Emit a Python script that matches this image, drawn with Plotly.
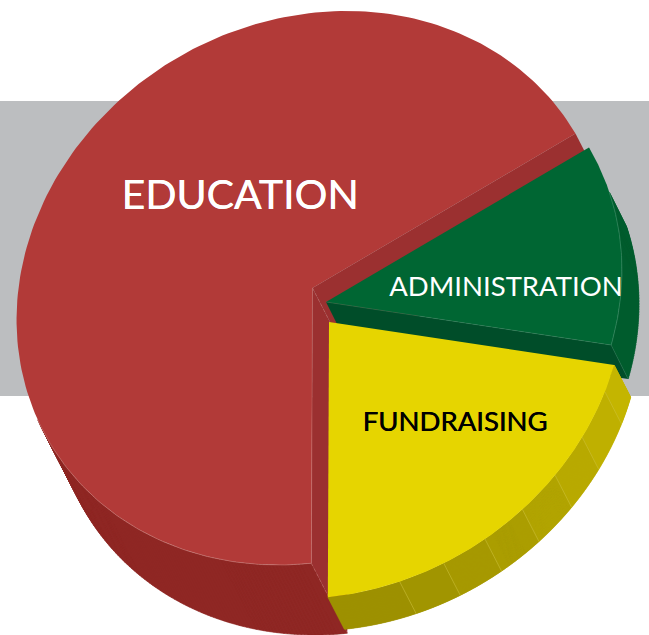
import numpy as np
import plotly.graph_objects as go

categories = ["ADMINISTRATION", "FUNDRAISING", "EDUCATION"]
shares = [11.9, 20.75, 67.35]

# Drawing style of the tilted, exploded pie (pixels of the 649x635 canvas)
W, H = 649, 635
AXIS_A, AXIS_B, TILT = 305.0, 267.0, np.radians(30)
apexes = {"ADMINISTRATION": (326, 302), "FUNDRAISING": (329, 322), "EDUCATION": (312.5, 288)}
depths = {"ADMINISTRATION": (17, 34), "FUNDRAISING": (16.5, 32), "EDUCATION": (36, 70)}
top_colors = {"ADMINISTRATION": "#006633", "FUNDRAISING": "#e6d500", "EDUCATION": "#b23a38"}
side_colors = {"ADMINISTRATION": "#005c2e", "FUNDRAISING": "#a89b00", "EDUCATION": "#8f2724"}
face_colors = {"ADMINISTRATION": "#004d29", "FUNDRAISING": "#c2b200", "EDUCATION": "#9b3030"}
label_pos = {"ADMINISTRATION": (506, 289), "FUNDRAISING": (455, 424), "EDUCATION": (240, 199)}
label_size = {"ADMINISTRATION": 27.5, "FUNDRAISING": 27.5, "EDUCATION": 41}
label_color = {"ADMINISTRATION": "white", "FUNDRAISING": "black", "EDUCATION": "white"}
label_shadow = {"ADMINISTRATION": "none", "FUNDRAISING": "0.5px 0 0 black", "EDUCATION": "0.4px 0 0 white"}
edu_side_end, admin_side_start = -185, -10
fund_bands = [-48, -58, -67, -76, -85, -94, -103]
fund_band_colors = ["#c4b500", "#bfb000", "#b8aa00", "#b2a400", "#ab9e00", "#a69900", "#a19500", "#9d9100"]

start = 0.5
sweeps = np.array(shares, dtype=float) / sum(shares) * 360


def rim(t_deg, apex):
    t = np.radians(np.asarray(t_deg, dtype=float))
    u, v = AXIS_A * np.cos(t), AXIS_B * np.sin(t)
    return (apex[0] + u * np.cos(TILT) - v * np.sin(TILT),
            apex[1] - (u * np.sin(TILT) + v * np.cos(TILT)))


def poly(xs, ys, color, line=0.8):
    return go.Scatter(x=list(xs), y=list(ys), mode="lines", fill="toself", fillcolor=color,
                      line=dict(color=color, width=line), hoverinfo="skip", showlegend=False)


def edge(xs, ys, color, width=0.6, dash=None):
    return go.Scatter(x=list(xs), y=list(ys), mode="lines", hoverinfo="skip", showlegend=False,
                      line=dict(color=color, width=width, dash=dash))


def side_quads(t0, t1, apex, d, color):
    ts = np.linspace(t0, t1, 100)
    rx, ry = rim(ts, apex)
    xs, ys = [], []
    for i in range(len(ts) - 1):
        xs += [rx[i], rx[i + 1], rx[i + 1] + d[0], rx[i] + d[0], rx[i], None]
        ys += [ry[i], ry[i + 1], ry[i + 1] + d[1], ry[i] + d[1], ry[i], None]
    return poly(xs, ys, color, line=0.6)


def wedge(t0, t1, apex, color):
    rx, ry = rim(np.linspace(t0, t1, 200), apex)
    return poly([apex[0], *rx, apex[0]], [apex[1], *ry, apex[1]], color, line=0)


def face(t, apex, d, color):
    x, y = rim(t, apex)
    x, y = float(x), float(y)
    return poly([apex[0], x, x + d[0], apex[0] + d[0], apex[0]],
                [apex[1], y, y + d[1], apex[1] + d[1], apex[1]], color, line=0)


limits = {}
t = start
for name, sw in zip(categories, sweeps):
    limits[name] = (t, t - sw)
    t -= sw

fig = go.Figure()

# Education
n = "EDUCATION"
a, d = apexes[n], depths[n]
t0, t1 = limits[n]
fig.add_trace(side_quads(t0, edu_side_end, a, d, side_colors[n]))
fig.add_trace(face(t1, a, d, face_colors[n]))
fig.add_trace(face(t0, a, d, face_colors[n]))
fig.add_trace(wedge(t0, t1, a, top_colors[n]))
rx, ry = rim(np.linspace(t0, edu_side_end, 80), a)
fig.add_trace(edge(rx, ry, "#cf8a86", 0.5))
sx, sy = float(rx[0]), float(ry[0])
fig.add_trace(edge([sx, a[0]], [sy, a[1]], "#c4706c", 0.5))
fig.add_trace(edge([sx, sx + d[0] / 2], [sy, sy + d[1] / 2], "#c4706c", 0.5, "dot"))
fig.add_trace(edge([a[0], a[0] + d[0] / 2.3], [a[1], a[1] + d[1] / 2.3], "#c4706c", 0.5, "dot"))

# Administration
n = "ADMINISTRATION"
a, d = apexes[n], depths[n]
t0, t1 = limits[n]
fig.add_trace(side_quads(admin_side_start, t1, a, d, side_colors[n]))
fig.add_trace(face(t1, a, d, face_colors[n]))
fig.add_trace(wedge(t0, t1, a, top_colors[n]))
rx, ry = rim(np.linspace(admin_side_start, t1, 60), a)
fig.add_trace(edge(rx, ry, "#4f9a76", 0.5))
fig.add_trace(edge([rx[-1], a[0]], [ry[-1], a[1]], "#3f8a66", 0.4))
fig.add_trace(edge([rx[-1], rx[-1] + d[0]], [ry[-1], ry[-1] + d[1]], "#3f8a66", 0.4))

# Fundraising
n = "FUNDRAISING"
a, d = apexes[n], depths[n]
t0, t1 = limits[n]
cuts = [t0, *fund_bands, t1]
for b0, b1, col in zip(cuts[:-1], cuts[1:], fund_band_colors):
    fig.add_trace(side_quads(b0, b1, a, d, col))
for b in fund_bands:
    x, y = rim(b, a)
    fig.add_trace(edge([float(x), float(x) + d[0]], [float(y), float(y) + d[1]], "#d2c640", 0.5))
fig.add_trace(wedge(t0, t1, a, top_colors[n]))

# Labels
for name in categories:
    x, y = label_pos[name]
    fig.add_trace(go.Scatter(x=[x], y=[y], mode="text", text=[name], textposition="middle center",
                             textfont=dict(family="Lato", size=label_size[name], color=label_color[name],
                                           shadow=label_shadow[name]),
                             hoverinfo="skip", showlegend=False))

fig.update_layout(
    width=W, height=H, margin=dict(l=0, r=0, t=0, b=0),
    paper_bgcolor="white", plot_bgcolor="rgba(0,0,0,0)", showlegend=False,
    xaxis=dict(range=[0, W], visible=False, fixedrange=True),
    yaxis=dict(range=[H, 0], visible=False, fixedrange=True),
    shapes=[dict(type="rect", xref="paper", yref="y", x0=0, x1=1, y0=101, y1=396,
                 fillcolor="#bcbec0", line_width=0, layer="below")],
)
fig.write_html("out.html", config={"displayModeBar": False},
               post_script="document.body.style.margin='0';document.body.style.overflow='hidden';")
